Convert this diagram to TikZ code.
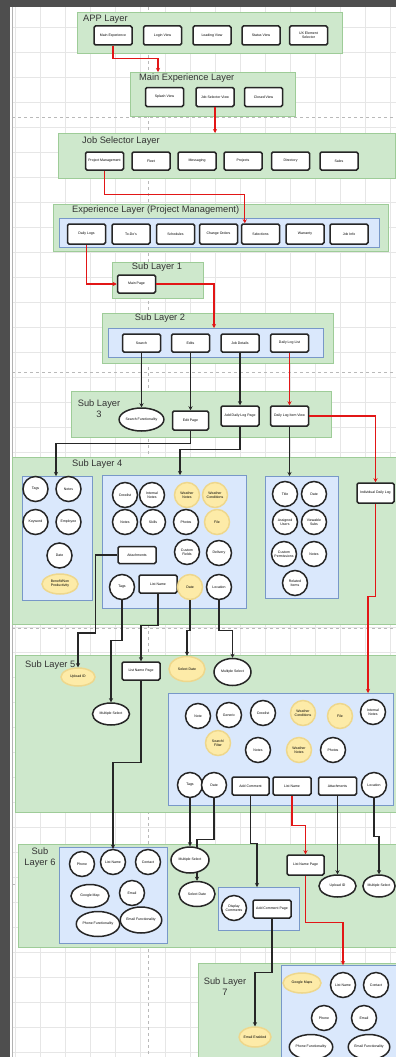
\documentclass[tikz,border=0pt]{standalone}
\usepackage{fontspec}
\setmainfont{Liberation Sans}
\usetikzlibrary{arrows.meta,positioning,shapes.geometric,calc}
\definecolor{grpfill}{RGB}{206,232,204}
\definecolor{grpline}{RGB}{158,204,152}
\definecolor{panefill}{RGB}{218,232,252}
\definecolor{paneline}{RGB}{120,152,200}
\definecolor{hotfill}{RGB}{253,235,168}
\definecolor{hotline}{RGB}{238,215,140}
\definecolor{flowred}{RGB}{226,22,22}
\definecolor{edgecol}{RGB}{38,38,38}
\definecolor{framecol}{RGB}{78,78,78}
\definecolor{gridcol}{RGB}{230,230,230}

\begin{document}
\begin{tikzpicture}[
    x=1pt, y=-1pt,
    grp/.style={draw=grpline, fill=grpfill, line width=1.2pt, anchor=north west, inner sep=0pt},
    pane/.style={draw=paneline, fill=panefill, line width=1pt, anchor=north west, inner sep=0pt},
    ttl/.style={font=\fontsize{9.3}{10.5}\selectfont, text=black!80, inner sep=0pt, align=center},
    viewbox/.style={draw=edgecol, fill=white, rounded corners=1.5pt, line width=1.5pt, minimum width=38pt, minimum height=19pt, font=\fontsize{3.5}{4.1}\selectfont, align=center, inner sep=1pt},
    bub/.style={circle, draw=edgecol, fill=white, line width=1.5pt, minimum size=25pt, inner sep=0pt, font=\fontsize{3.5}{4.1}\selectfont, align=center},
    ov/.style={ellipse, draw=edgecol, fill=white, line width=1.5pt, minimum width=38pt, minimum height=24pt, inner sep=0pt, font=\fontsize{3.5}{4.1}\selectfont, align=center},
    hot/.style={draw=hotline, fill=hotfill},
    arr/.style={-{Stealth[length=4pt,width=4pt]}, line width=1.2pt, draw=edgecol},
    redarr/.style={arr, draw=flowred, line width=1.3pt},
]
\useasboundingbox (0,0) rectangle (396,1057);
% canvas
\fill[white] (0,0) rectangle (396,1057);
\foreach \gx in {15,40,...,390} \draw[gridcol, line width=0.5pt] (\gx,7) -- (\gx,1057);
\foreach \gy in {27,52,...,1052} \draw[gridcol, line width=0.5pt] (12,\gy) -- (396,\gy);
\foreach \gy in {117,372,628,884} \draw[gray!55, dashed, line width=0.8pt] (12,\gy) -- (396,\gy);
\draw[gray!55, dashed, line width=0.8pt] (148,7) -- (148,1057);
\fill[framecol] (0,0) rectangle (10,1057);
\fill[framecol] (0,0) rectangle (396,7);
\draw[gray!60, line width=1pt] (12.5,7) -- (12.5,1057);

% APP layer
\node[grp, minimum width=265pt, minimum height=41pt] (app) at (77,12) {};
\node[ttl, anchor=north west] (appttl) at (83,15) {APP Layer};
\node[viewbox] (mainexp) at (113,35.5) {Main Experience};
\node[viewbox] (loginv) at (162.5,35.5) {Login View};
\node[viewbox] (loadv) at (212,35.5) {Loading View};
\node[viewbox] (statusv) at (261,35.5) {Status View};
\node[viewbox] (uxsel) at (308.5,35.5) {UX Element\\Selector};

% main experience layer
\node[grp, minimum width=165pt, minimum height=44pt] (mainlayer) at (130,72) {};
\node[ttl, anchor=north west] (mainttl) at (139,74) {Main Experience Layer};
\node[viewbox] (splashv) at (164.5,97) {Splash View};
\node[viewbox] (jobselv) at (215,97) {Job Selector View};
\node[viewbox] (closedv) at (263.5,97) {Closed View};

\draw[redarr] (mainexp.south) -- ++(0,13) -| ([xshift=28pt]mainlayer.north west);

% job selector layer
\node[grp, minimum width=337pt, minimum height=45pt] (jobsel) at (58,133) {};
\node[ttl, anchor=north west] (jobttl) at (82,137) {Job Selector Layer};
\node[viewbox, minimum height=18pt] (projmgmt) at (104.5,161) {Project Management};
\node[viewbox, minimum height=18pt] (fleet) at (151,161) {Fleet};
\node[viewbox, minimum height=18pt] (messaging) at (197,161) {Messaging};
\node[viewbox, minimum height=18pt] (projects) at (243,161) {Projects};
\node[viewbox, minimum height=18pt] (directory) at (290.5,161) {Directory};
\node[viewbox, minimum height=18pt] (sales) at (339,161) {Sales};

\draw[redarr] (jobselv.south) -- (jobselv.south |- jobsel.north);

% experience layer
\node[grp, minimum width=335pt, minimum height=47pt] (explayer) at (53,204) {};
\node[ttl, anchor=north west] (expttl) at (72,206) {Experience Layer (Project Management)};
\node[pane, minimum width=320pt, minimum height=29pt] (exppane) at (59,218) {};
\node[viewbox, minimum height=20pt] (dailylogs) at (86.5,234) {Daily Logs};
\node[viewbox, minimum height=20pt] (todos) at (131,234) {To-Do's};
\node[viewbox, minimum height=20pt] (schedules) at (175.5,234) {Schedules};
\node[viewbox, minimum height=20pt] (changeord) at (218.5,234) {Change Orders};
\node[viewbox, minimum height=20pt] (selections) at (260.5,234) {Selections};
\node[viewbox, minimum height=20pt] (warranty) at (305,234) {Warranty};
\node[viewbox, minimum height=20pt] (jobinfo) at (349,234) {Job Info};

\draw[redarr] (projmgmt.south) -- ++(0,24) -| ([xshift=4pt]selections.north west);

% sub layer 1
\node[grp, minimum width=91pt, minimum height=36pt] (sub1) at (112,262) {};
\node[ttl, anchor=north] (sub1ttl) at (157,263) {Sub Layer 1};
\node[viewbox, minimum height=18pt] (mainpage) at (136.5,284) {Main Page};

\draw[redarr] (dailylogs.south) |- (mainpage.west);

% sub layer 2
\node[grp, minimum width=231pt, minimum height=50pt] (sub2) at (102,313) {};
\node[ttl, anchor=north] (sub2ttl) at (160,314) {Sub Layer 2};
\node[pane, minimum width=215pt, minimum height=29pt] (pane2) at (108,328) {};
\node[viewbox, minimum height=18pt] (search) at (141.5,343) {Search};
\node[viewbox, minimum height=18pt] (edits) at (190.5,343) {Edits};
\node[viewbox, minimum height=18pt] (jobdet) at (240,343) {Job Details};
\node[viewbox, minimum height=18pt] (dloglist) at (289.5,343) {Daily Log List};

\draw[redarr] (mainpage.east) -| ([xshift=106pt]pane2.north west);

% sub layer 3
\node[grp, minimum width=260pt, minimum height=46pt] (sub3) at (71,391) {};
\node[ttl, anchor=north] (sub3ttl) at (99,400) {Sub Layer\\3};
\node[ov, minimum height=23pt] (searchfn) at (141.5,419.5) {Search Functionality};
\node[viewbox, minimum width=36pt] (editpage) at (190.5,420.5) {Edit Page};
\node[viewbox, minimum height=20pt] (adddlp) at (240,416) {Add Daily Log Page};
\node[viewbox, minimum height=20pt] (dlitem) at (289.5,416) {Daily Log Item View};

\draw[arr] (search.south) -- (searchfn.north);
\draw[arr] (edits.south) -- (editpage.north);
\draw[arr] (jobdet.south) -- (adddlp.north);
\draw[redarr] (dloglist.south) -- (dlitem.north);

% sub layer 4
\node[grp, minimum width=384pt, minimum height=167pt] (sub4) at (12,457) {};
\node[ttl, anchor=north west] (sub4ttl) at (72,460) {Sub Layer 4};
\node[pane, minimum width=70pt, minimum height=124pt] (pane4a) at (22,476) {};
\node[pane, minimum width=144pt, minimum height=133pt] (pane4b) at (102,475) {};
\node[pane, minimum width=73pt, minimum height=122pt] (pane4c) at (265,476) {};
\node[viewbox, minimum width=37pt, minimum height=20pt] (indiv) at (375.5,493) {Individual Daily Log};

\node[bub] (tags4) at (35.5,489) {Tags};
\node[bub] (notes4) at (68.5,489) {Notes};
\node[bub] (keyword4) at (35.5,522) {Keyword};
\node[bub] (employee4) at (68.5,522) {Employee};
\node[bub] (date4a) at (59.5,555.5) {Date};
\node[ov, hot, minimum width=36pt, minimum height=20pt] (benefit4) at (60,584) {Benefit/Non\\Productivity};

\node[bub] (crew4) at (125,495) {Crewlist};
\node[bub] (intnotes4) at (152,495) {Internal\\Notes};
\node[bub, hot] (wnotes4) at (187,495) {Weather\\Notes};
\node[bub, hot] (wcond4) at (215,495) {Weather\\Conditions};
\node[bub] (notes4b) at (125,522) {Notes};
\node[bub] (skills4) at (153,522) {Skills};
\node[bub] (photos4) at (186,522) {Photos};
\node[bub, hot] (file4) at (217,522) {File};
\node[viewbox, minimum height=17pt] (attach4) at (137,555) {Attachments};
\node[bub] (cust4) at (187,552) {Custom\\Fields};
\node[bub] (deliv4) at (219,553) {Delivery};
\node[bub] (tags4b) at (122,587) {Tags};
\node[viewbox, minimum height=18pt] (listname4) at (158,584) {List Name};
\node[bub, hot] (date4b) at (190,587) {Date};
\node[bub] (loc4) at (219,587) {Location};

\node[bub] (title4) at (285,494) {Title};
\node[bub] (date4c) at (314,494) {Date};
\node[bub] (assigned4) at (285,522) {Assigned\\Users};
\node[bub] (viewable4) at (314,522) {Viewable\\Subs};
\node[bub] (custperm4) at (284,554) {Custom\\Permissions};
\node[bub] (notes4c) at (314,554) {Notes};
\node[bub] (related4) at (295,583) {Related\\Items};

\draw[redarr] (dlitem.east) -| (indiv.north);
\draw[arr] (dlitem.south) -- (dlitem.south |- pane4c.north);
\draw[arr] (editpage.south) -- ++(0,13) -| ([xshift=34pt]pane4a.north west);
\draw[arr] (adddlp.south) -- ++(0,23) -| ([xshift=78pt]pane4b.north west);

% sub layer 5
\node[grp, minimum width=381pt, minimum height=157pt] (sub5) at (15,655) {};
\node[ttl, anchor=north west] (sub5ttl) at (25,661) {Sub Layer 5};
\node[ov, hot, minimum width=34pt, minimum height=18pt] (uploadid5) at (78,677) {Upload ID};
\node[ov, minimum width=37pt, minimum height=22pt] (multisel5a) at (111,714) {Multiple Select};
\node[viewbox, minimum height=18pt] (lnpage5) at (141,671) {List Name Page};
\node[ov, hot, minimum width=36pt, minimum height=25pt] (seldate5) at (187,669) {Select Date};
\node[ov, minimum width=37pt, minimum height=27pt] (multisel5b) at (232.5,672) {Multiple Select};
\node[pane, minimum width=225pt, minimum height=112pt] (pane5) at (168,693) {};

\node[bub] (note5) at (198,716) {Note};
\node[bub] (generic5) at (229,715) {Generic};
\node[bub] (crew5) at (263,713) {Crewlist};
\node[bub, hot] (wcond5) at (303,713) {Weather\\Conditions};
\node[bub, hot] (file5) at (340,716) {File};
\node[bub] (intnotes5) at (373,712) {Internal\\Notes};
\node[bub, hot] (search5) at (218,743) {Search/\\Filter};
\node[bub] (notes5) at (258,750) {Notes};
\node[bub, hot] (wnotes5) at (299,750) {Weather\\Notes};
\node[bub] (photos5) at (333,750) {Photos};
\node[bub] (tags5) at (190,785) {Tags};
\node[bub] (date5) at (214,785) {Date};
\node[viewbox, minimum width=37pt, minimum height=18pt] (addcom5) at (250.5,786) {Add Comment};
\node[viewbox, minimum height=18pt] (listname5) at (292,786) {List Name};
\node[viewbox, minimum height=18pt] (attach5) at (337.5,786) {Attachments};
\node[bub] (loc5) at (374,785) {Location};

\draw[redarr] (indiv.south) -- ++(0,93) -| ([xshift=200pt]pane5.north west);
\draw[arr] (attach4.west) -- ++(-22,0) -- ++(0,78) -| (uploadid5.north);
\draw[arr] (tags4b.south) -- ++(0,40) -| (multisel5a.north);
\draw[arr] (listname4.south) -- ++(0,32) -| (lnpage5.north);
\draw[arr] (date4b.south) -- ++(0,30) -| (seldate5.north);
\draw[arr] (loc4.south) -- ++(0,30) -| (multisel5b.north);

% sub layer 6
\node[grp, minimum width=378pt, minimum height=103pt] (sub6) at (18,844) {};
\node[ttl, anchor=north] (sub6ttl) at (40,848) {Sub\\Layer 6};
\node[pane, minimum width=108pt, minimum height=96pt] (pane6) at (59,847) {};
\node[bub] (phone6) at (82,864) {Phone};
\node[bub] (listname6) at (113,862) {List Name};
\node[bub] (contact6) at (148,862) {Contact};
\node[ov, minimum height=23pt] (gmap6) at (90,896) {Google Map};
\node[bub] (email6) at (132,893) {Email};
\node[ov, minimum height=25pt] (phonefn6) at (98,924) {Phone Functionality};
\node[ov, minimum height=26pt] (emailfn6) at (141,920) {Email Functionality};
\node[ov, minimum width=36pt, minimum height=25pt] (seldate6) at (197,894) {Select Date};
\node[pane, minimum width=81pt, minimum height=43pt] (pane6b) at (218,887) {};
\node[bub] (dispcom6) at (234,908) {Display\\Comments};
\node[viewbox, minimum height=18pt] (addcompg6) at (272,909) {Add Comment Page};
\node[viewbox, minimum width=37pt, minimum height=20pt] (lnpage6) at (305.5,865) {List Name Page};
\node[ov, minimum width=37pt, minimum height=22pt] (upload6) at (337.5,886) {Upload ID};
\node[ov, minimum width=32pt, minimum height=22pt] (multisel6b) at (379,886) {Multiple Select};

\draw[arr] (date5.south) -- ++(0,41) -| (seldate6.north);
\node[ov, minimum height=26pt] (multisel6) at (190,860) {Multiple Select};
\draw[arr] (tags5.south) -- (multisel6.north);
\draw[arr] (lnpage5.south) -- ++(0,82) -| (listname6.north);
\draw[arr] (addcom5.south) -- ++(0,48) -| ([xshift=39pt]pane6b.north west);
\draw[redarr] (listname5.south) -- ++(0,30) -| (lnpage6.north);
\draw[arr] (attach5.south) -- (upload6.north);
\draw[arr] (loc5.south) -- ++(0,38) -| (multisel6b.north);

% sub layer 7
\node[grp, minimum width=198pt, minimum height=96pt] (sub7) at (198,963) {};
\node[ttl, anchor=north] (sub7ttl) at (225,978) {Sub Layer\\7};
\node[pane, minimum width=116pt, minimum height=94pt] (pane7) at (281,965) {};
\node[ov, hot, minimum height=20pt] (gmaps7) at (302,983) {Google Maps};
\node[bub] (listname7) at (343,985) {List Name};
\node[bub] (contact7) at (376,985) {Contact};
\node[bub] (phone7) at (324,1018) {Phone};
\node[bub] (email7) at (364,1018) {Email};
\node[ov, minimum height=25pt] (phonefn7) at (311,1047) {Phone Functionality};
\node[ov, minimum height=25pt] (emailfn7) at (369,1047) {Email Functionality};
\node[ov, hot, minimum width=30pt, minimum height=20pt] (emailen7) at (255,1037) {Email Enabled};

\draw[redarr] (lnpage6.south) -- ++(0,47) -| ([xshift=62pt]pane7.north west);
\draw[arr] (addcompg6.south) -- ++(0,54) -| (emailen7.north);
\end{tikzpicture}
\end{document}
